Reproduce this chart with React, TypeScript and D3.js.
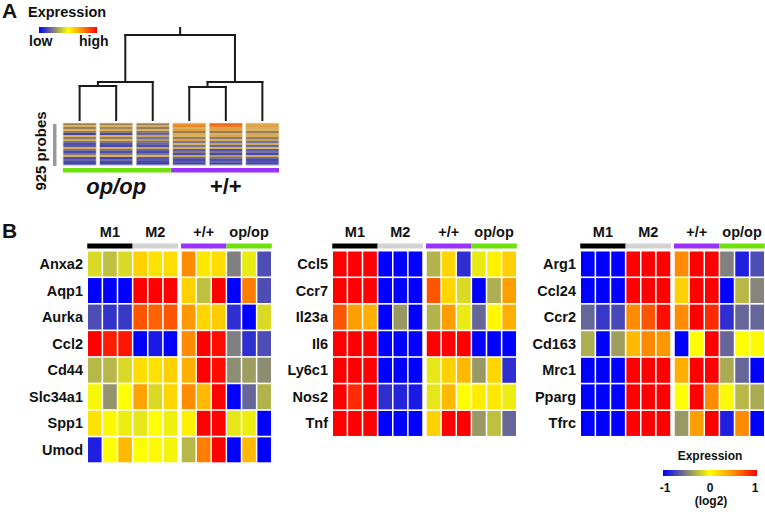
import React from "react";
import * as d3 from "d3";

// ---------- Panel A data ----------
const aGroups = ["op/op", "+/+"];
const aGroupColors = ["#6ee00a", "#9b30ff"];
const aColumnGroup = [0, 0, 0, 1, 1, 1];
// stripe values (top to bottom) per sample column, -1 (low) .. 1 (high)
const aStripes: number[][] = [
  [-0.1, 0.3, -0.1, 0.3, -0.15, -0.9, 0.3, -0.2, 0.25, -0.5, -0.8, -0.7, 0.4, -0.5, -0.85, -0.3, 0.35, -0.8, -0.6, -0.85, -0.95],
  [-0.1, 0.3, -0.05, 0.35, -0.2, -0.85, 0.3, -0.1, 0.3, -0.4, -0.75, -0.85, 0.35, -0.45, -0.8, -0.2, 0.3, -0.9, -0.55, -0.85, -0.9],
  [-0.15, 0.25, -0.1, 0.3, -0.3, -0.6, 0.2, -0.5, 0.1, -0.4, -0.6, -0.8, 0.2, -0.6, -0.85, -0.4, 0.3, -0.75, -0.7, -0.85, -0.95],
  [0.6, 0.7, 0.35, 0.55, -0.1, 0.4, 0.3, -0.2, 0.5, -0.4, 0.3, -0.5, 0.4, -0.7, -0.3, -0.8, 0.2, -0.6, -0.85, -0.7, -0.9],
  [0.9, 0.75, 0.5, 0.45, -0.1, 0.3, 0.45, -0.3, 0.35, -0.5, 0.2, -0.6, 0.35, -0.8, -0.4, -0.85, 0.1, -0.5, -0.8, -0.6, -0.95],
  [0.4, 0.5, 0.35, 0.3, -0.1, 0.25, 0.4, -0.2, 0.2, -0.5, 0.25, -0.6, 0.3, -0.7, -0.5, -0.85, 0.25, -0.6, -0.85, -0.75, -0.9],
];
// dendrogram: children are leaf indices or subtrees, h = merge height (0..1)
const dendro = {
  h: 1,
  children: [
    { h: 0.447, children: [{ h: 0.4, children: [0, 1] }, 2] },
    { h: 0.447, children: [{ h: 0.388, children: [3, 4] }, 5] },
  ],
};
const aProbeLabel = "925 probes";

// ---------- Panel B data ----------
const bGroups = ["M1", "M2", "+/+", "op/op"];
const bGroupColors = ["#000000", "#d3d3d3", "#9b30ff", "#6ee00a"];

const genes1 = ["Anxa2", "Aqp1", "Aurka", "Ccl2", "Cd44", "Slc34a1", "Spp1", "Umod"];
const values1: number[][] = [
  [-0.15, -0.25, -0.15, 0.2, 0.12, 0.15, 0.5, 0.1, 0.15, -0.5, -0.08, -0.7],
  [-1, -1, -1, 1, 1, 1, 0.2, -0.25, 1, -1, 0.55, -0.7],
  [-0.7, -0.8, -0.78, 0.7, 0.65, 0.7, 0.45, 0.18, 0.22, -0.82, -1, -0.15],
  [1, 0.9, 0.92, -1, -0.9, -1, 0.5, 1, 0.95, -0.5, -0.82, -0.7],
  [-0.28, -0.28, -0.15, 0.15, 0.12, 0.2, 0.35, 1, 0.95, -0.45, -0.38, -0.45],
  [-0.03, -0.42, 0, 0.4, -0.15, 0.18, 0.5, 0.3, 1, -1, -0.6, -0.3],
  [0.12, 0.03, -0.07, -0.1, 0, -0.06, 0.06, 1, 1, -0.1, -0.07, -1],
  [-0.88, 0, 0.3, 0, 0.02, -0.04, -0.28, 0.55, 1, -1, 0.3, -1],
];

const genes2 = ["Ccl5", "Ccr7", "Il23a", "Il6", "Ly6c1", "Nos2", "Tnf"];
const values2: number[][] = [
  [1, 1, 1, -1, -1, -1, -0.3, 0.18, -0.82, -0.08, 0.06, 0.2],
  [1, 1, 1, -1, -1, -1, 0.7, 0.18, -0.15, -1, -0.32, 0.42],
  [0.7, 0.42, 0.35, -1, -0.4, -1, -0.3, 0.42, -0.08, -0.6, 0.03, 0.35],
  [1, 1, 1, -1, -1, -1, 1, 1, 1, -1, -1, -1],
  [1, 1, 1, -1, -1, -1, -0.1, 0.2, 0.3, -0.4, 0.18, -0.82],
  [1, 0.85, 1, -0.82, -0.86, -0.9, -0.1, 0.3, 0, 0.08, 0.1, -0.07],
  [1, 1, 1, -1, -1, -1, 0.2, 1, 1, -0.4, -0.25, -0.6],
];

const genes3 = ["Arg1", "Ccl24", "Ccr2", "Cd163", "Mrc1", "Pparg", "Tfrc"];
const values3: number[][] = [
  [-1, -1, -1, 1, 1, 1, 0.5, 1, 1, -0.5, -0.88, -0.7],
  [-1, -1, -1, 1, 1, 1, 0.2, 1, 1, -1, -0.28, -0.48],
  [-0.6, -0.78, -0.72, 0.5, 0.7, 0.95, 0.5, 1, 0.85, -0.82, -0.6, -0.6],
  [-0.32, -1, -0.38, 0.3, 0.5, 0.45, -1, 0, 1, -0.6, 0, -0.02],
  [-1, -1, -1, 1, 1, 1, 0.35, 1, 1, -0.33, -0.6, -1],
  [-1, -1, -1, 1, 1, 1, 0, 1, 0.5, -0.02, -0.28, -0.33],
  [-1, -1, -1, 1, 1, 1, -0.4, 0.42, 1, -0.88, 0.5, -1],
];

const legendTicks = [-1, 0, 1];

// ---------- scales ----------
const colorB = d3
  .scaleLinear<string>()
  .domain([-1, -0.5, 0, 0.5, 1])
  .range(["#0000ff", "#808080", "#ffff00", "#ff8c00", "#ff0000"])
  .interpolate(d3.interpolateRgb);

const colorA = d3
  .scaleLinear<string>()
  .domain([-1, -0.5, -0.1, 0.3, 0.6, 1])
  .range(["#3535b8", "#7474a0", "#9a7e58", "#d6b262", "#e89a30", "#ee4a10"])
  .interpolate(d3.interpolateRgb);

const FONT = "'Liberation Sans', Arial, Helvetica, sans-serif";

type Node = { h: number; children: (Node | number)[] };

function Heatmap({ x0, genes, values }: { x0: number; genes: string[]; values: number[][] }) {
  const xCol = d3.scaleBand<number>().domain(d3.range(12)).range([0, 180]).paddingInner(0.1);
  const gap = 3;
  const colX = (i: number) => x0 + (xCol(i) as number) + (i >= 6 ? gap : 0);
  const step = xCol.step();
  const bw = xCol.bandwidth();
  const y0 = 251.5;
  const yRow = d3
    .scaleBand<number>()
    .domain(d3.range(genes.length))
    .range([y0, y0 + genes.length * 26.35])
    .paddingInner(0.06);
  return (
    <g>
      {bGroups.map((g, gi) => {
        const start = colX(gi * 3) - (step - bw) / 2;
        const end = colX(gi * 3 + 2) + bw + (step - bw) / 2;
        return (
          <g key={g}>
            <rect x={start} y={243.5} width={end - start} height={5} fill={bGroupColors[gi]} />
            <text
              x={(start + end) / 2}
              y={237}
              textAnchor="middle"
              fontSize={14.5}
              fontWeight="bold"
              fontFamily={FONT}
              fill="#111"
            >
              {g}
            </text>
          </g>
        );
      })}
      {genes.map((gene, r) => (
        <g key={gene}>
          <text
            x={x0 - 5}
            y={(yRow(r) as number) + yRow.bandwidth() / 2 + 5}
            textAnchor="end"
            fontSize={14.5}
            fontWeight="bold"
            fontFamily={FONT}
            fill="#111"
          >
            {gene}
          </text>
          {values[r].map((v, c) => (
            <rect
              key={c}
              x={colX(c)}
              y={yRow(r) as number}
              width={bw}
              height={yRow.bandwidth()}
              fill={colorB(v)}
            />
          ))}
        </g>
      ))}
    </g>
  );
}

function PanelA() {
  const xA = d3.scaleBand<number>().domain(d3.range(6)).range([63, 279]).paddingInner(0.09);
  const yS = d3.scaleBand<number>().domain(d3.range(aStripes[0].length)).range([123, 165]);
  const yH = d3.scaleLinear().domain([0, 1]).range([120, 35]);
  const leafX = (i: number) => (xA(i) as number) + xA.bandwidth() / 2;

  const lines: { x1: number; y1: number; x2: number; y2: number }[] = [];
  const walk = (n: Node | number): { x: number; y: number } => {
    if (typeof n === "number") return { x: leafX(n), y: yH(0) };
    const kids = n.children.map(walk);
    const y = yH(n.h);
    const xs = kids.map((k) => k.x);
    kids.forEach((k) => lines.push({ x1: k.x, y1: k.y, x2: k.x, y2: y }));
    lines.push({ x1: d3.min(xs) as number, y1: y, x2: d3.max(xs) as number, y2: y });
    return { x: (d3.min(xs)! + d3.max(xs)!) / 2, y };
  };
  const root = walk(dendro as Node);
  lines.push({ x1: root.x, y1: root.y, x2: root.x, y2: root.y - 7 });

  const groupExtent = aGroups.map((_, gi) => {
    const cols = d3.range(6).filter((c) => aColumnGroup[c] === gi);
    const s = xA(cols[0]) as number;
    const e = (xA(cols[cols.length - 1]) as number) + xA.bandwidth();
    return [s, e];
  });

  return (
    <g>
      <defs>
        <linearGradient id="gradA" x1="0" x2="1" y1="0" y2="0">
          {[-1, -0.5, 0, 0.5, 1].map((v) => (
            <stop key={v} offset={(v + 1) / 2} stopColor={colorB(v)} />
          ))}
        </linearGradient>
      </defs>
      <text x={2} y={18} fontSize={21} fontWeight="bold" fontFamily={FONT} fill="#111">
        A
      </text>
      <text x={28} y={17} fontSize={14.5} fontWeight="bold" fontFamily={FONT} fill="#111">
        Expression
      </text>
      <rect x={39} y={27} width={58} height={6} fill="url(#gradA)" />
      <text x={29} y={46} fontSize={14} fontWeight="bold" fontFamily={FONT} fill="#111">
        low
      </text>
      <text x={79} y={46} fontSize={14} fontWeight="bold" fontFamily={FONT} fill="#111">
        high
      </text>
      {lines.map((l, i) => (
        <line key={i} {...l} stroke="#1a1a1a" strokeWidth={2} strokeLinecap="square" />
      ))}
      {aStripes.map((col, c) => (
        <g key={c}>
          {col.map((v, s) => (
            <rect
              key={s}
              x={xA(c) as number}
              y={yS(s) as number}
              width={xA.bandwidth()}
              height={yS.bandwidth() + 0.3}
              fill={colorA(v)}
            />
          ))}
          <rect
            x={xA(c) as number}
            y={123}
            width={xA.bandwidth()}
            height={42}
            fill="none"
            stroke="#e8e0c8"
            strokeWidth={0.8}
          />
        </g>
      ))}
      <rect x={53} y={124} width={3.5} height={42} fill="#999999" />
      <text
        transform="translate(46,151) rotate(-90)"
        textAnchor="middle"
        fontSize={15}
        fontWeight="bold"
        fontFamily={FONT}
        fill="#111"
      >
        {aProbeLabel}
      </text>
      {aGroups.map((g, gi) => (
        <g key={g}>
          <rect
            x={groupExtent[gi][0] - (gi === 0 ? 0 : 1.5)}
            y={168}
            width={groupExtent[gi][1] - groupExtent[gi][0] + 1.5}
            height={4.5}
            fill={aGroupColors[gi]}
          />
          <text
            x={(groupExtent[gi][0] + groupExtent[gi][1]) / 2}
            y={194}
            textAnchor="middle"
            fontSize={22}
            fontWeight="bold"
            fontStyle={g === "op/op" ? "italic" : "normal"}
            fontFamily={FONT}
            fill="#111"
          >
            {g}
          </text>
        </g>
      ))}
    </g>
  );
}

function LegendB() {
  const xL = d3.scaleLinear().domain([-1, 1]).range([663, 757]);
  return (
    <g>
      <defs>
        <linearGradient id="gradB" x1="0" x2="1" y1="0" y2="0">
          {[-1, -0.5, 0, 0.5, 1].map((v) => (
            <stop key={v} offset={(v + 1) / 2} stopColor={colorB(v)} />
          ))}
        </linearGradient>
      </defs>
      <text x={710} y={460} textAnchor="middle" fontSize={12} fontWeight="bold" fontFamily={FONT} fill="#111">
        Expression
      </text>
      <rect x={xL(-1)} y={470} width={xL(1) - xL(-1)} height={6} fill="url(#gradB)" />
      {legendTicks.map((t) => (
        <text
          key={t}
          x={xL(t) + (t === -1 ? 2 : t === 1 ? -2 : 0)}
          y={492}
          textAnchor="middle"
          fontSize={12}
          fontWeight="bold"
          fontFamily={FONT}
          fill="#111"
        >
          {t}
        </text>
      ))}
      <text x={711} y={505} textAnchor="middle" fontSize={12} fontWeight="bold" fontFamily={FONT} fill="#111">
        (log2)
      </text>
    </g>
  );
}

export default function App() {
  return (
    <svg
      width={765}
      height={512}
      viewBox="0 0 765 512"
      style={{ position: "absolute", left: 0, top: 0, background: "#fff" }}
    >
      <rect width={765} height={512} fill="#fff" />
      <PanelA />
      <text x={2} y={238} fontSize={21} fontWeight="bold" fontFamily={FONT} fill="#111">
        B
      </text>
      <Heatmap x0={88} genes={genes1} values={values1} />
      <Heatmap x0={333} genes={genes2} values={values2} />
      <Heatmap x0={581} genes={genes3} values={values3} />
      <LegendB />
    </svg>
  );
}
